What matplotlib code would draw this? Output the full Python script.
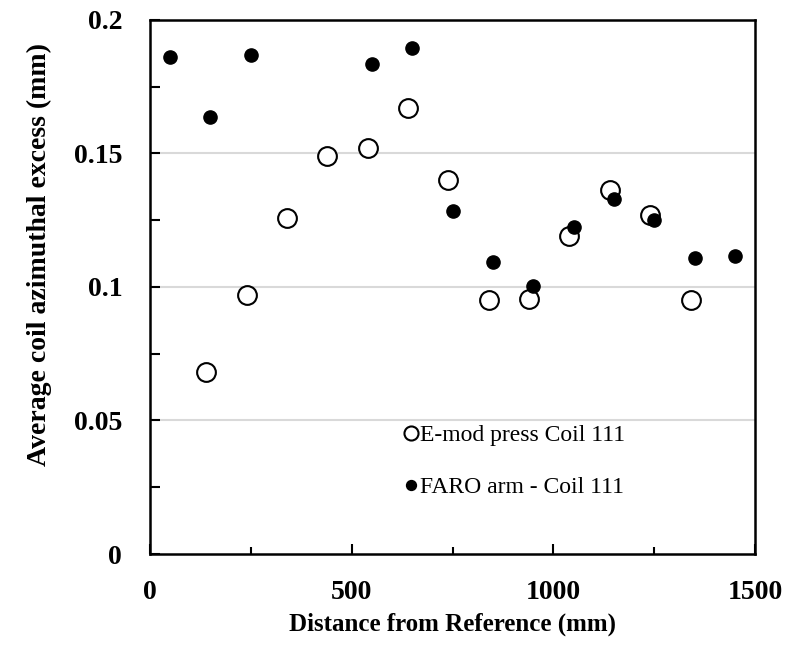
import matplotlib
matplotlib.use("Agg")
import matplotlib.pyplot as plt
from matplotlib.ticker import FixedLocator

plt.rcParams['font.family'] = ['Liberation Serif', 'DejaVu Serif']

# E-mod press - Coil 111 (open circles)
emod_x = [140, 240, 340, 440, 540, 640, 740, 840, 940, 1040, 1140, 1240, 1340]
emod_y = [0.068, 0.097, 0.126, 0.149, 0.152, 0.167, 0.140, 0.095, 0.0955, 0.119, 0.1365, 0.127, 0.095]

# FARO arm - Coil 111 (filled circles)
faro_x = [50, 150, 250, 550, 650, 750, 850, 950, 1050, 1150, 1250, 1350, 1450]
faro_y = [0.186, 0.1635, 0.187, 0.1835, 0.1895, 0.1285, 0.1095, 0.1005, 0.1225, 0.133, 0.125, 0.111, 0.1115]

xticks = [0, 500, 1000, 1500]
xminor = [250, 750, 1250]
yticks = [0, 0.05, 0.1, 0.15, 0.2]
ylabels = ['0', '0.05', '0.1', '0.15', '0.2']
yminor = [0.025, 0.075, 0.125, 0.175]

fig = plt.figure(figsize=(7.99, 6.53), dpi=100)
ax = fig.add_axes([0.1877, 0.1516, 0.7573, 0.8178])

ax.plot(emod_x, emod_y, 'o', ms=13.5, mfc='white', mec='black', mew=1.5,
        linestyle='none', label='E-mod press Coil 111', zorder=3)
ax.plot(faro_x, faro_y, 'o', ms=9.5, color='black',
        linestyle='none', label='FARO arm - Coil 111', zorder=4)

ax.set_xlim(0, 1500)
ax.set_ylim(0, 0.2)
ax.xaxis.set_major_locator(FixedLocator(xticks))
ax.xaxis.set_minor_locator(FixedLocator(xminor))
ax.yaxis.set_major_locator(FixedLocator(yticks))
ax.yaxis.set_minor_locator(FixedLocator(yminor))
ax.set_xticklabels([str(t) for t in xticks])
ax.set_yticklabels(ylabels)

ax.tick_params(which='both', direction='in', width=1.5, labelsize=20)
ax.tick_params(axis='x', which='major', length=7, pad=19)
ax.tick_params(axis='x', which='minor', length=5)
ax.tick_params(axis='y', which='both', length=7, pad=20)
for lab in ax.get_xticklabels() + ax.get_yticklabels():
    lab.set_fontweight('bold')

# light grey gridlines
for v in [0.05, 0.1, 0.15]:
    ax.axhline(v, color='#d9d9d9', lw=1.5, zorder=1)

for s in ax.spines.values():
    s.set_linewidth(1.8)

ax.set_xlabel('Distance from Reference (mm)', fontsize=18, fontweight='bold', labelpad=5)
ax.set_ylabel('Average coil azimuthal excess (mm)', fontsize=20, fontweight='bold')
ax.yaxis.set_label_coords(-0.162, 0.56)

leg = ax.legend(loc='upper left', bbox_to_anchor=(0.376, 0.2825), frameon=False,
                fontsize=17, handletextpad=-0.12, handlelength=1.0, labelspacing=1.3,
                markerscale=0.75)

fig.savefig('out.png', dpi=100)
